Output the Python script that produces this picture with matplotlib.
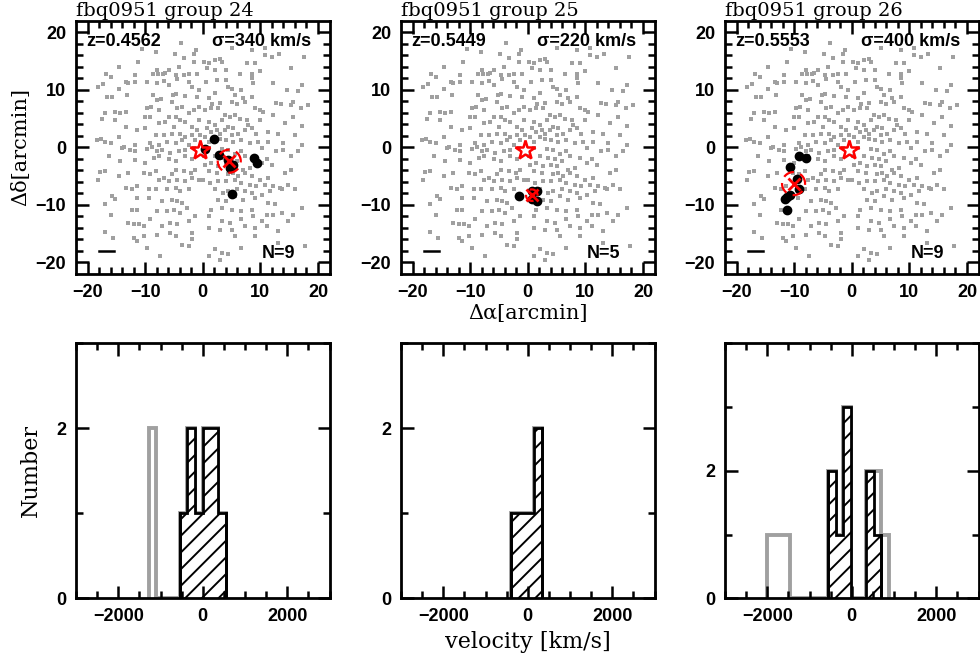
import matplotlib
matplotlib.use("Agg")
import matplotlib.pyplot as plt
import numpy as np

# background galaxies in the fbq0951 field (same in all three panels), arcmin
field_x = [
    -3.7, -1.1, -1.5, -4.9, -8.2, -10.5, -11.2, -14.6, -3.3, -1.5, -4.2, -5.9, -6.6, -6.9, -7.8, -8.7, -7.9, -4.7, -4.5, -3.3,
    -2.4, -1.0, -16.8, -16.0, -17.4, -18.1, -13.4, -12.9, -11.8, -11.7, -9.7, -7.9, -6.8, -5.9, -5.2, -4.7, -3.0, -2.4, -1.9, -0.7,
    -1.0, -14.6, -13.1, -15.7, -16.6, -8.7, -7.9, -7.2, -8.9, -9.7, -7.6, -5.3, -4.5, -3.6, -2.4, -1.5, -0.7, -15.2, -14.3, -13.4,
    -16.9, -17.5, -15.2, -13.4, -10.0, -9.1, -5.9, -4.7, -3.9, -3.0, -1.9, -0.7, -1.0, -11.4, -10.0, -7.6, -6.5, -5.0, -8.2, -6.8,
    -5.3, -3.9, -3.0, -1.9, -1.3, -0.4, -14.6, -17.6, -18.4, -16.9, -16.0, -13.7, -11.7, -9.1, -7.6, -6.2, -4.7, -3.6, -2.4, -8.8,
    2.1, 3.0, 3.4, 1.0, 0.3, 5.0, 8.5, 10.8, 9.0, 7.6, 10.8, 12.0, 15.3, 17.5, 13.2, 0.7, 2.1, 4.1, 6.5, 8.5,
    9.9, 8.5, 4.1, 2.4, 0.5, 4.4, 5.0, 6.7, 8.8, 12.2, 14.7, 16.6, 17.2, 2.2, 5.6, 7.0, 8.5, 1.0, 1.6, 3.0,
    5.0, 5.9, 7.3, 9.1, 9.9, 10.5, 12.8, 13.6, 15.4, 15.7, 17.1, 18.3, 2.7, 1.4, 0.4, 3.9, 4.7, 5.6, 6.5, 3.3,
    7.6, 7.9, 9.9, 12.2, 15.7, 14.3, 17.2, 1.0, 2.1, 0.7, 1.5, 2.4, 3.0, 4.4, 5.3, 3.8, 5.0, 6.2, 7.3, 8.5,
    9.3, 11.4, 13.1, 16.0, 2.1, 3.0, 4.1, 5.3, 6.7, 8.2, 9.6, 11.4, 14.0, 17.2, 1.0, 0.4,
    -14.0, -12.6, -11.7, -9.7, -7.9, -7.1, -5.6, -4.2, -3.0, -1.5, -16.3, -14.3, -11.7, -10.0, -8.5, -7.6, -5.9, -4.7, -3.0, -1.9,
    -17.8, -16.9, -18.1, -14.6, -12.9, -10.2, -9.1, -8.2, -7.6, -6.8, -5.3, -4.7, -3.3, -2.1, -1.3, -5.9, -4.5, -3.0, -1.9, -0.7,
    -13.4, -12.3, -11.4, -9.4, -8.2, -6.2, -4.7, -3.9, -2.4, -15.7, -15.2, -11.4, -9.4, -7.1, -5.3, -4.5, -3.6, -2.7, -16.9, -12.3,
    -11.4, -7.9, -6.2, -5.0, -3.9, -16.0, -12.9, -12.0, -11.1, -10.2, -9.1, -7.1, -5.6, -4.5, -2.4, -1.3, -16.9, -15.5, -12.0, -11.4,
    -10.2, -7.9, -5.6, -4.7, -1.9, -3.6, -2.4, -1.9, -9.7, -7.4,
    1.0, 3.3, 4.4, 6.7, 10.2, 12.7, 14.0, 16.6, 0.3, 2.1, 3.6, 4.7, 5.6, 7.3, 9.1, 11.1, 15.4, 0.4, 1.5, 2.7,
    4.1, 5.0, 5.9, 7.0, 8.2, 10.2, 12.0, 1.0, 2.4, 4.4, 5.3, 6.2, 7.3, 8.5, 9.9, 11.4, 14.3, 15.4, 0.1, 1.2,
    2.7, 4.1, 5.6, 6.7, 8.2, 9.3, 10.8, 12.2, 13.4, 14.8, 16.0, 2.1, 3.6, 4.4, 5.9, 7.3, 8.5, 10.2, 11.7, 13.7,
    2.7, 4.1, 5.6, 7.0, 9.1, 11.4, 12.5, 17.2, 1.5, 3.3, 5.0, 6.7, 8.5, 11.1, 12.2, 13.7, 15.7, 1.0, 3.3, 4.7,
    6.7, 8.8, 10.2, 1.0, 3.0, 5.0, 7.3, 9.1, 11.1, 13.1, 14.8, 5.6, 9.1, 13.1, 2.1, 3.3, 4.4, 6.7, 17.7, 1.0,
    3.0,
]
field_y = [
    18.2, 16.9, 16.3, 16.3, 16.6, 17.0, 14.9, 14.0, 15.6, 14.9, 14.0, 13.4, 13.0, 12.8, 12.8, 12.8, 13.5, 12.5, 11.8, 12.5,
    12.8, 12.8, 12.8, 12.3, 11.0, 10.5, 11.4, 11.1, 12.5, 11.4, 11.4, 11.1, 11.6, 10.8, 9.1, 9.2, 8.9, 11.4, 10.5, 10.0,
    8.8, 10.2, 9.1, 8.8, 8.7, 9.1, 8.2, 8.4, 7.0, 6.8, 6.5, 7.9, 6.8, 7.0, 5.9, 6.5, 7.0, 6.2, 5.9, 6.2,
    5.9, 5.0, 4.7, 3.6, 5.3, 5.3, 5.2, 5.3, 4.7, 4.4, 3.6, 4.7, 3.0, 3.0, 3.3, 4.2, 4.4, 3.6, 2.1, 2.1,
    2.4, 2.4, 1.8, 2.1, 1.3, 2.1, 1.8, 1.5, 1.3, 1.0, 0.7, 0.1, 0.4, 0.7, 0.4, 1.0, 0.7, 1.3, 0.4, 0.1,
    15.2, 15.4, 14.9, 14.6, 14.9, 17.2, 16.9, 17.2, 14.7, 14.6, 16.0, 15.7, 13.7, 15.7, 16.3, 13.7, 13.4, 13.4, 12.8, 12.8,
    13.3, 12.0, 11.7, 11.7, 11.4, 10.5, 10.2, 10.0, 11.1, 11.1, 10.0, 9.8, 10.8, 9.4, 9.1, 8.5, 8.8, 8.5, 7.6, 7.7,
    7.9, 7.6, 7.9, 6.8, 6.5, 6.2, 7.7, 7.6, 7.3, 7.9, 6.8, 7.3, 6.8, 6.9, 6.5, 5.6, 5.3, 5.6, 5.0, 4.7,
    4.7, 3.9, 4.7, 5.6, 5.3, 4.2, 3.7, 4.4, 3.9, 3.3, 2.7, 3.0, 2.4, 3.6, 3.3, 3.0, 2.1, 2.4, 3.0, 3.3,
    2.4, 2.7, 2.4, 2.1, 1.8, 1.5, 1.3, 1.0, 1.3, 0.7, 1.0, 1.0, 0.7, 0.4, 1.0, 1.8,
    -0.1, -0.4, -0.7, -0.3, -0.7, -0.4, -1.0, -0.7, -0.4, -0.1, -1.5, -2.4, -2.2, -2.7, -1.8, -1.5, -2.1, -2.4, -1.5, -2.1,
    -4.3, -4.1, -5.6, -4.9, -4.4, -4.4, -4.7, -4.1, -5.6, -5.3, -4.7, -3.9, -4.1, -4.4, -3.9, -5.9, -5.6, -5.9, -5.3, -5.6,
    -7.0, -7.3, -6.7, -7.3, -7.3, -7.3, -7.0, -7.6, -7.3, -8.5, -9.0, -8.8, -8.8, -9.3, -9.1, -9.3, -9.6, -10.5, -9.9, -10.8,
    -10.8, -11.1, -11.1, -10.8, -11.4, -11.7, -13.1, -13.4, -13.4, -13.7, -12.5, -13.7, -13.1, -13.4, -12.8, -12.0, -14.7, -15.7, -15.7, -16.3,
    -15.4, -15.3, -14.8, -15.4, -14.8, -16.9, -17.2, -16.0, -17.5, -18.8,
    -0.1, -0.3, -0.4, -0.7, -0.1, -0.7, -0.4, -0.7, -1.5, -1.5, -1.8, -2.1, -1.2, -1.5, -1.8, -2.1, -1.5, -3.0, -2.7, -3.3,
    -3.0, -3.3, -2.4, -3.9, -3.6, -2.7, -3.0, -4.1, -4.4, -4.7, -4.4, -5.0, -4.4, -5.0, -5.6, -5.3, -4.4, -3.9, -5.6, -6.2,
    -5.9, -5.9, -5.6, -6.2, -6.5, -6.7, -6.5, -6.7, -7.0, -6.5, -7.3, -7.3, -7.9, -7.6, -7.3, -7.6, -7.9, -8.2, -7.6, -7.3,
    -9.1, -9.3, -8.5, -9.1, -8.8, -9.6, -9.9, -10.5, -10.8, -10.5, -10.8, -11.1, -10.8, -11.7, -11.7, -11.4, -11.7, -12.0, -12.8, -13.1,
    -12.5, -12.0, -12.8, -14.0, -14.3, -14.3, -13.7, -14.0, -13.7, -14.6, -12.8, -15.4, -15.4, -16.6, -17.7, -18.3, -18.6, -17.4, -17.2, -18.9,
    -19.5,
]

quasar = (-0.5, -0.4)

titles = ["fbq0951 group 24", "fbq0951 group 25", "fbq0951 group 26"]
redshifts = ["z=0.4562", "z=0.5449", "z=0.5553"]
sigmas = ["σ=340 km/s", "σ=220 km/s", "σ=400 km/s"]
counts_n = ["N=9", "N=5", "N=9"]

# group members, arcmin
members_x = [
    [0.4, 2.0, 2.8, 4.7, 5.0, 8.9, 9.4, 4.3, 5.2],
    [-1.6, 0.8, 1.6, 0.7, 1.6],
    [-9.2, -8.0, -10.8, -9.5, -9.1, -10.8, -11.5, -11.2, -11.2],
]
members_y = [
    [-0.3, 1.5, -1.3, -3.6, -8.1, -1.8, -2.7, -2.2, -3.0],
    [-8.5, -7.5, -7.5, -8.9, -9.4],
    [-1.5, -1.9, -3.5, -5.5, -7.2, -8.3, -9.0, -10.9, -8.6],
]
centre_x = [4.6, 0.7, -10.1]
centre_y = [-2.4, -8.3, -6.3]
centre_r = [2.0, 1.0, 2.0]

# velocity histograms (km/s): all galaxies vs. group members
hist_edges = [
    [-1281, -1098, -915, -732, -549, -366, -183, 0, 183, 366, 549],
    [-385, -204, -23, 158, 339],
    [-2000, -1820, -1640, -1460, -1280, -1100, -920, -740, -560, -380, -200, -20, 160, 340, 520, 700, 880],
]
hist_all = [
    [2, 0, 0, 0, 1, 2, 1, 2, 2, 1],
    [1, 1, 1, 2],
    [1, 1, 1, 0, 0, 0, 0, 0, 2, 1, 3, 0, 0, 2, 2, 1],
]
hist_grp = [
    [0, 0, 0, 0, 1, 2, 1, 2, 2, 1],
    [1, 1, 1, 2],
    [0, 0, 0, 0, 0, 0, 0, 0, 2, 1, 3, 0, 0, 2, 1, 0],
]
hist_ymax = [3, 3, 4]

RED = "#ff0000"
GREY = "#a0a0a0"
plt.rcParams["hatch.linewidth"] = 1.4
tick_font = dict(family="Liberation Sans", weight="bold", size=13)
serif = "DejaVu Serif"
label_font = dict(fontsize=13, weight="bold", family="Liberation Sans", va="center")

fig = plt.figure(figsize=(9.8, 6.53), dpi=100)
lefts = [76 / 980, 401 / 980, 725 / 980]
w = 253.5 / 980


def style_axes(ax):
    for s in ax.spines.values():
        s.set_linewidth(2)
    ax.tick_params(which="both", direction="in", top=True, right=True, width=1.8)
    ax.tick_params(which="major", length=9, pad=7)
    ax.tick_params(which="minor", length=5)
    for lab in ax.get_xticklabels() + ax.get_yticklabels():
        lab.set_fontproperties(matplotlib.font_manager.FontProperties(**tick_font))


for i in range(3):
    ax = fig.add_axes([lefts[i], 1 - 274 / 653, w, 253.3 / 653])
    ax.scatter(field_x, field_y, s=5.5, marker="s", color=GREY, linewidths=0)
    ax.plot(members_x[i], members_y[i], "o", color="black", ms=6)
    ax.plot(*quasar, marker="*", ms=15, mfc="none", mec=RED, mew=1.8)
    ax.plot(centre_x[i], centre_y[i], marker="x", ms=9, mec=RED, mew=2)
    t = np.linspace(0, 2 * np.pi, 100)
    ax.plot(centre_x[i] + centre_r[i] * np.cos(t), centre_y[i] + centre_r[i] * np.sin(t),
            color=RED, lw=1.6, ls=(0, (5, 3)))
    ax.plot([-18, -15.4], [-18, -18], color="black", lw=1.8)
    ax.set_xlim(-22, 22)
    ax.set_ylim(-22, 22)
    ax.set_xticks([-20, -10, 0, 10, 20])
    ax.set_yticks([-20, -10, 0, 10, 20])
    ax.set_xticks(np.arange(-20, 21, 2), minor=True)
    ax.set_yticks(np.arange(-20, 21, 2), minor=True)
    ax.set_xticklabels(["−20", "−10", "0", "10", "20"])
    ax.set_yticklabels(["−20", "−10", "0", "10", "20"])
    style_axes(ax)
    ax.text(-20.2, 18.4, redshifts[i], **label_font)
    ax.text(18.8, 18.4, sigmas[i], ha="right", **label_font)
    ax.text(16.0, -18.4, counts_n[i], ha="right", **label_font)
    ax.annotate(titles[i], xy=(0, 1), xycoords="axes fraction", xytext=(0, 3.6),
                textcoords="offset points", fontsize=14, family=serif, va="baseline", ha="left")
    if i == 0:
        ax.set_ylabel("Δδ[arcmin]", fontsize=15, family=serif, labelpad=4)
    if i == 1:
        ax.set_xlabel("Δα[arcmin]", fontsize=15, family=serif, labelpad=2)

    hx = fig.add_axes([lefts[i], 1 - 598.3 / 653, w, 255 / 653])
    edges = np.array(hist_edges[i])
    hx.stairs(hist_all[i], edges, color=GREY, lw=2.8)
    grp = np.array(hist_grp[i])
    nz = np.nonzero(grp)[0]
    g_edges = edges[nz[0]:nz[-1] + 2]
    g_vals = grp[nz[0]:nz[-1] + 1]
    hx.stairs(g_vals, g_edges, fill=True, facecolor="white", edgecolor="black", hatch="//", lw=0)
    hx.stairs(g_vals, g_edges, baseline=0, color="black", lw=2)
    hx.plot([g_edges[0], g_edges[0]], [0, g_vals[0]], color="black", lw=2)
    hx.plot([g_edges[-1], g_edges[-1]], [0, g_vals[-1]], color="black", lw=2)
    hx.set_xlim(-3000, 3000)
    hx.set_ylim(0, hist_ymax[i])
    hx.set_xticks([-2000, 0, 2000])
    hx.set_xticklabels(["−2000", "0", "2000"])
    hx.set_xticks(np.arange(-3000, 3001, 500), minor=True)
    hx.set_yticks([0, 2])
    hx.set_yticks(range(0, hist_ymax[i] + 1), minor=True)
    style_axes(hx)
    if i == 0:
        hx.set_ylabel("Number", fontsize=16, family=serif, labelpad=10)
    if i == 1:
        hx.set_xlabel("velocity [km/s]", fontsize=16, family=serif, labelpad=4)

fig.savefig("out.png", dpi=100)
